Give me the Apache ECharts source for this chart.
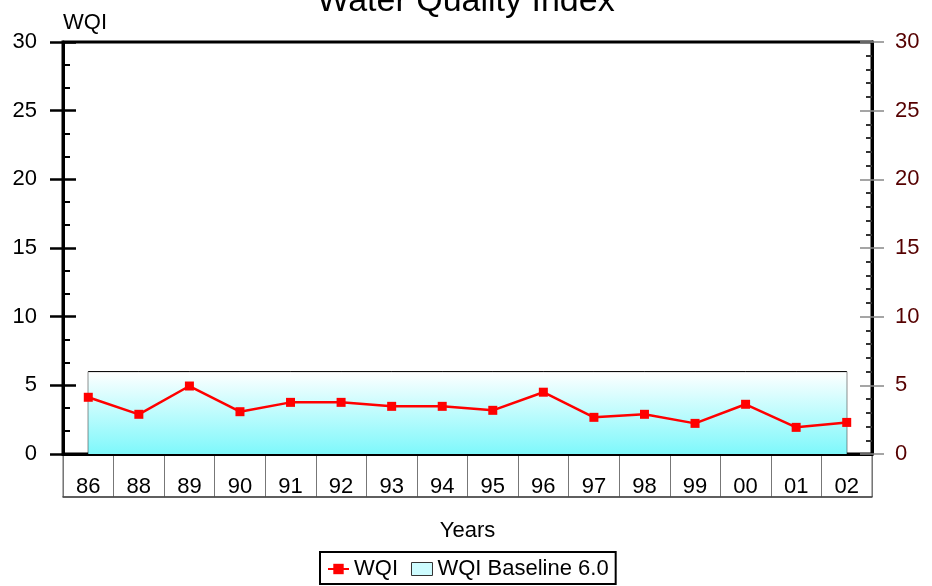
<!DOCTYPE html>
<html>
<head>
<meta charset="utf-8">
<script src="https://cdn.jsdelivr.net/npm/echarts@6/dist/echarts.min.js"></script>
<style>
  html, body { margin: 0; padding: 0; background: #fff; }
  #main { width: 932px; height: 586px; }
</style>
</head>
<body>
<div id="main"></div>
<script>
// 数据
var years = ['86', '88', '89', '90', '91', '92', '93', '94', '95', '96', '97', '98', '99', '00', '01', '02'];
var wqi = [4.13, 2.89, 4.95, 3.08, 3.76, 3.76, 3.47, 3.47, 3.18, 4.5, 2.67, 2.89, 2.23, 3.62, 1.94, 2.3];
var baseline = [6, 6, 6, 6, 6, 6, 6, 6, 6, 6, 6, 6, 6, 6, 6, 6];
var yMin = 0, yMax = 30, yStep = 5;

var FONT = 'Liberation Sans';
var chart = echarts.init(document.getElementById('main'), null, { renderer: 'canvas' });

var option = {
  backgroundColor: '#fff',
  animation: false,
  textStyle: { fontFamily: FONT },
  title: {
    text: 'Water Quality Index',
    left: 'center',
    top: -15,
    padding: 0,
    textStyle: { fontFamily: FONT, fontSize: 34, fontWeight: 'normal', color: '#000' }
  },
  legend: {
    left: 320,
    top: 552,
    padding: [6, 7, 4, 7],
    itemGap: 13,
    itemWidth: 21,
    itemHeight: 13,
    borderColor: '#000',
    borderWidth: 2,
    textStyle: { fontFamily: FONT, fontSize: 22, color: '#000' },
    data: [
      { name: 'WQI' },
      { name: 'WQI Baseline 6.0', icon: 'rect', itemStyle: { color: '#cdfcff', borderColor: '#333', borderWidth: 1 } }
    ]
  },
  grid: [
    { left: 63, right: 60, top: 42, bottom: 132, show: true, borderColor: '#000', borderWidth: 3 },
    // 年份标签格子
    { left: 63, right: 60, top: 454, height: 43, show: true, borderColor: '#666', borderWidth: 1 }
  ],
  xAxis: [
    {
      type: 'category', gridIndex: 0, data: years, boundaryGap: true,
      axisLine: { lineStyle: { color: '#000', width: 3 } },
      axisTick: { alignWithLabel: true, inside: true, length: 14, lineStyle: { color: '#000', width: 3 } },
      axisLabel: { show: false },
      splitLine: { show: false }
    },
    {
      type: 'category', gridIndex: 1, data: years, boundaryGap: true, position: 'top',
      axisLine: { show: false },
      axisTick: { alignWithLabel: true, inside: true, length: 13, lineStyle: { color: '#000', width: 3 } },
      axisLabel: { inside: true, margin: 22, fontFamily: FONT, fontSize: 22, color: '#000' },
      splitLine: { show: true, lineStyle: { color: '#777', width: 1 } }
    },
    {
      type: 'category', gridIndex: 1, data: years, boundaryGap: true, position: 'bottom',
      axisLine: { lineStyle: { color: '#444', width: 1.5 } },
      axisTick: { show: false },
      axisLabel: { show: false },
      name: 'Years', nameLocation: 'middle', nameGap: 23,
      nameTextStyle: { fontFamily: FONT, fontSize: 22, color: '#000' }
    }
  ],
  yAxis: [
    {
      type: 'value', gridIndex: 0, position: 'left', min: yMin, max: yMax, interval: yStep,
      name: 'WQI', nameLocation: 'end', nameGap: 8,
      nameTextStyle: { fontFamily: FONT, fontSize: 22, color: '#000', align: 'left' },
      axisLine: { show: true, lineStyle: { color: '#000', width: 3 } },
      axisTick: { show: true, inside: true, length: 13, lineStyle: { color: '#000', width: 2.5 } },
      minorTick: { show: true, splitNumber: 3, length: 7, lineStyle: { color: '#000', width: 2 } },
      axisLabel: { margin: 26, fontFamily: FONT, fontSize: 22, color: '#000' },
      splitLine: { show: false }
    },
    {
      type: 'value', gridIndex: 0, position: 'left', offset: 0, min: yMin, max: yMax, interval: yStep,
      axisLine: { show: false },
      axisTick: { show: true, inside: false, length: 13, lineStyle: { color: '#000', width: 2.5 } },
      axisLabel: { show: false },
      splitLine: { show: false }
    },
    {
      type: 'value', gridIndex: 0, position: 'right', min: yMin, max: yMax, interval: yStep,
      axisLine: { show: true, lineStyle: { color: '#000', width: 3 } },
      axisTick: { show: true, inside: true, length: 12, lineStyle: { color: '#888', width: 1.5 } },
      minorTick: { show: true, splitNumber: 5, length: 6, lineStyle: { color: '#333', width: 2 } },
      axisLabel: { margin: 23, fontFamily: FONT, fontSize: 22, color: '#550000' },
      splitLine: { show: false }
    },
    {
      type: 'value', gridIndex: 0, position: 'right', offset: 0, min: yMin, max: yMax, interval: yStep,
      axisLine: { show: false },
      axisTick: { show: true, inside: false, length: 12, lineStyle: { color: '#888', width: 1.5 } },
      axisLabel: { show: false },
      splitLine: { show: false }
    },
    { type: 'value', gridIndex: 1, show: false, min: 0, max: 1 }
  ],
  series: [
    {
      name: 'WQI Baseline 6.0',
      type: 'line',
      xAxisIndex: 0, yAxisIndex: 0,
      data: baseline,
      symbol: 'none',
      z: 1,
      lineStyle: { color: '#000', width: 1 },
      itemStyle: { color: '#cdfcff' },
      areaStyle: {
        opacity: 1,
        color: new echarts.graphic.LinearGradient(0, 0, 0, 1, [
          { offset: 0, color: '#ffffff' },
          { offset: 1, color: '#7ef8fb' }
        ])
      },
      // 两侧竖边
      markArea: {
        silent: true,
        itemStyle: { color: 'rgba(0,0,0,0)', borderColor: '#000', borderWidth: 1 },
        data: [[{ xAxis: 0, yAxis: 0 }, { xAxis: years.length - 1, yAxis: baseline[0] }]]
      }
    },
    {
      name: 'WQI',
      type: 'line',
      xAxisIndex: 0, yAxisIndex: 0,
      data: wqi,
      z: 3,
      symbol: 'rect',
      symbolSize: 9,
      lineStyle: { color: '#ff0000', width: 2.5 },
      itemStyle: { color: '#ff0000' }
    }
  ]
};
chart.setOption(option);
</script>
</body>
</html>
